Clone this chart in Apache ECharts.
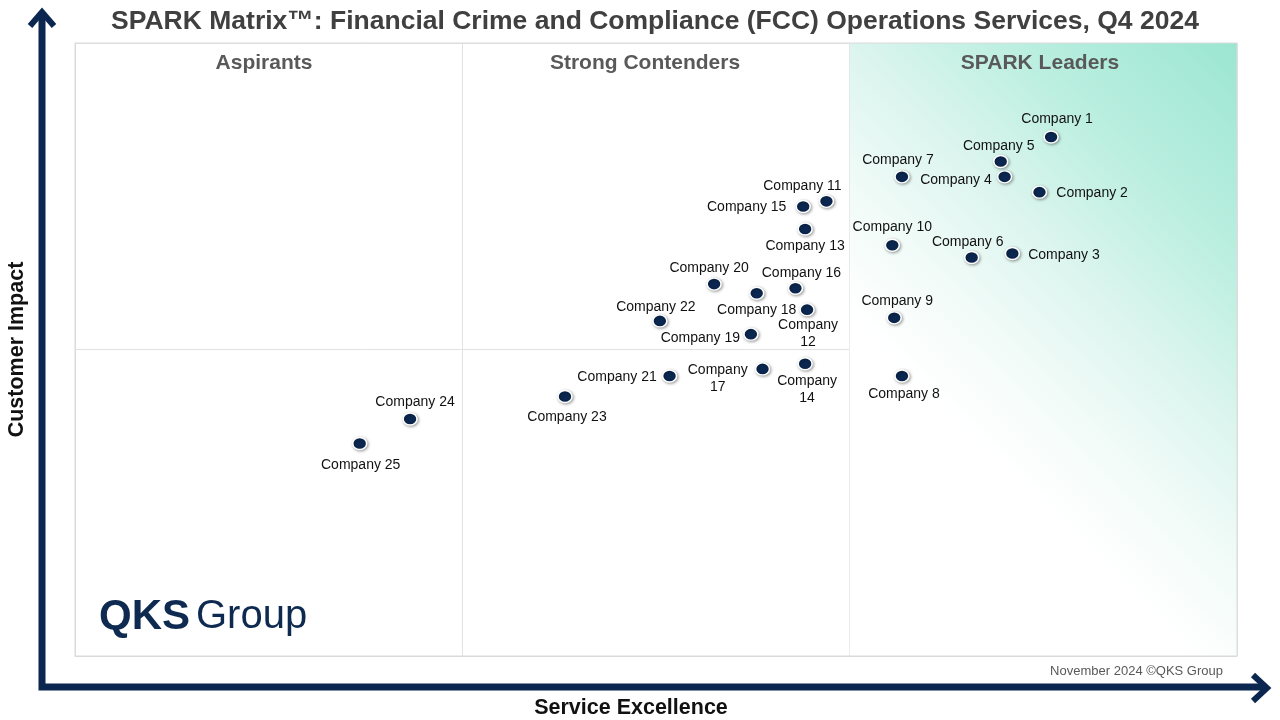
<!DOCTYPE html>
<html>
<head>
<meta charset="utf-8">
<script src="https://cdn.jsdelivr.net/npm/echarts@6/dist/echarts.min.js"></script>
<style>
html,body{margin:0;padding:0;background:#fff;}
#chart{width:1280px;height:720px;}
</style>
</head>
<body>
<div id="chart"></div>
<script>
// ---- data ----
const companies = ['Company 1','Company 2','Company 3','Company 4','Company 5','Company 6','Company 7','Company 8','Company 9','Company 10',
  'Company 11','Company 12','Company 13','Company 14','Company 15','Company 16','Company 17','Company 18','Company 19','Company 20',
  'Company 21','Company 22','Company 23','Company 24','Company 25'];
const serviceExcellence = [5.04,4.98,4.84,4.80,4.78,4.63,4.27,4.27,4.23,4.22,
  3.88,3.78,3.77,3.77,3.76,3.72,3.55,3.52,3.49,3.30,
  3.07,3.02,2.53,1.73,1.47];
const customerImpact = [5.08,4.54,3.94,4.69,4.84,3.90,4.69,2.74,3.31,4.02,
  4.45,3.39,4.18,2.86,4.40,3.60,2.81,3.55,3.15,3.64,
  2.74,3.28,2.54,2.32,2.08];
const quadrantNames = ['Aspirants','Strong Contenders','SPARK Leaders'];
const titleText = 'SPARK Matrix\u2122: Financial Crime and Compliance (FCC) Operations Services, Q4 2024';
const xAxisName = 'Service Excellence';
const yAxisName = 'Customer Impact';
const footerText = 'November 2024 \u00A9QKS Group';

// ---- label layout (placement only): [position, [dx, dy], wrap, align] ----
const labelPlacement = [
  ['top',[6,2]],['right',[4,1]],['right',[3,2]],['left',[0,3]],['top',[-2,5]],
  ['top',[-4,5]],['top',[-4,3]],['bottom',[2,-2]],['top',[3,4]],['top',[0,2]],
  ['top',[-24,5]],['bottom',[1,-5],true],['bottom',[0,-3]],['bottom',[2,-3],true],['left',[-4,1]],
  ['top',[6,5]],['left',[-32,10],true,'center'],['bottom',[0,-3]],['left',[2,4]],['top',[-5,4]],
  ['left',[0,1]],['top',[-4,6]],['bottom',[2,0]],['top',[5,3]],['bottom',[1,1]]
];

const NAVY = '#0b2750';
const FONT = '"Liberation Sans", Arial, sans-serif';
const LABEL_COLOR = '#111111';

const points = companies.map((n, i) => {
  const L = labelPlacement[i];
  const lbl = {
    show: true,
    position: L[0],
    color: LABEL_COLOR,
    formatter: L[2] ? n.replace(' ', '\n') : n
  };
  if (L[3]) lbl.align = L[3];
  return { name: n, value: [serviceExcellence[i], customerImpact[i]], label: lbl };
});

const chart = echarts.init(document.getElementById('chart'), null, {renderer:'canvas'});

const gridL = 75, gridT = 43, gridW = 1162, gridH = 613;

chart.setOption({
  animation: false,
  backgroundColor: '#ffffff',
  grid: { left: gridL, top: gridT, width: gridW, height: gridH, containLabel: false, outerBoundsMode: 'none' },
  xAxis: {
    type: 'value', min: 0, max: 6, interval: 2,
    name: xAxisName, nameLocation: 'middle', nameGap: 41,
    nameTextStyle: { color: '#111', fontSize: 21.5, fontWeight: 'bold', fontFamily: FONT, padding: [0, 50, 0, 0] },
    axisLine: { show: true, lineStyle: { color: '#dadada' } },
    axisTick: { show: false }, axisLabel: { show: false },
    splitLine: { show: true, lineStyle: { color: '#e2e2e2', width: 1 } }
  },
  yAxis: {
    type: 'value', min: 0, max: 6, interval: 3,
    name: yAxisName, nameLocation: 'middle', nameGap: 47, nameRotate: 90,
    nameTextStyle: { color: '#111', fontSize: 21.5, fontWeight: 'bold', fontFamily: FONT },
    axisLine: { show: true, lineStyle: { color: '#dadada' } },
    axisTick: { show: false }, axisLabel: { show: false },
    splitLine: { show: true, lineStyle: { color: '#e2e2e2', width: 1 } }
  },
  series: [{
    type: 'scatter',
    data: points,
    symbol: 'circle',
    symbolSize: [14, 12],
    itemStyle: {
      color: NAVY, opacity: 1, borderColor: '#ffffff', borderWidth: 1.5,
      shadowBlur: 3, shadowColor: 'rgba(0,0,0,0.35)', shadowOffsetX: 1, shadowOffsetY: 1
    },
    label: { color: LABEL_COLOR, fontSize: 14, fontFamily: FONT, lineHeight: 17, distance: 5 },
    emphasis: { disabled: true },
    labelLayout: function (p) {
      const d = labelPlacement[p.dataIndex][1];
      return { dx: d[0], dy: d[1], hideOverlap: false };
    },
    markArea: {
      silent: true,
      itemStyle: {
        color: {
          type: 'linear', x: 1, y: 0, x2: 0, y2: 0.636,
          colorStops: [
            { offset: 0, color: '#9be6d1' },
            { offset: 0.3, color: '#bdefe1' },
            { offset: 0.5, color: '#dcf5ee' },
            { offset: 0.68, color: '#f1fbf8' },
            { offset: 0.85, color: '#ffffff' },
            { offset: 1, color: '#ffffff' }
          ]
        }
      },
      data: [[{ coord: [4, 6] }, { coord: [6, 0] }]]
    },
    z: 5
  }],
  graphic: [
    { type: 'rect', z: 50, silent: true, shape: { x: gridL, y: gridT, width: gridW, height: gridH },
      style: { fill: 'none', stroke: '#dadada', lineWidth: 1 } },
    { type: 'text', x: 655, y: 22, z: 60,
      style: { text: titleText, fill: '#404040', font: 'bold 26.5px ' + FONT, textAlign: 'center', textVerticalAlign: 'middle' } },
    { type: 'text', x: 264, y: 63, z: 60,
      style: { text: quadrantNames[0], fill: '#595959', font: 'bold 21px ' + FONT, textAlign: 'center', textVerticalAlign: 'middle' } },
    { type: 'text', x: 645, y: 63, z: 60,
      style: { text: quadrantNames[1], fill: '#595959', font: 'bold 21px ' + FONT, textAlign: 'center', textVerticalAlign: 'middle' } },
    { type: 'text', x: 1040, y: 63, z: 60,
      style: { text: quadrantNames[2], fill: '#595959', font: 'bold 21px ' + FONT, textAlign: 'center', textVerticalAlign: 'middle' } },
    { type: 'text', x: 1223, y: 671, z: 60,
      style: { text: footerText, fill: '#595959', font: '13px ' + FONT, textAlign: 'right', textVerticalAlign: 'middle' } },
    { type: 'text', x: 99, y: 617, z: 60,
      style: { text: 'QKS', fill: '#0e2a50', font: 'bold 42px ' + FONT, textAlign: 'left', textVerticalAlign: 'middle' } },
    { type: 'text', x: 196, y: 617, z: 60,
      style: { text: 'Group', fill: '#0e2a50', font: '40px ' + FONT, textAlign: 'left', textVerticalAlign: 'middle' } },
    { type: 'polyline', z: 70, silent: true,
      shape: { points: [[42, 12], [42, 687], [1266, 687]] },
      style: { stroke: NAVY, lineWidth: 7, fill: 'none', lineJoin: 'miter' } },
    { type: 'polyline', z: 70, silent: true,
      shape: { points: [[30, 26], [42, 12], [54, 26]] },
      style: { stroke: NAVY, lineWidth: 6, fill: 'none', lineJoin: 'miter' } },
    { type: 'polyline', z: 70, silent: true,
      shape: { points: [[1253, 675], [1267, 688], [1253, 701]] },
      style: { stroke: NAVY, lineWidth: 6, fill: 'none', lineJoin: 'miter' } }
  ]
});
</script>
</body>
</html>
